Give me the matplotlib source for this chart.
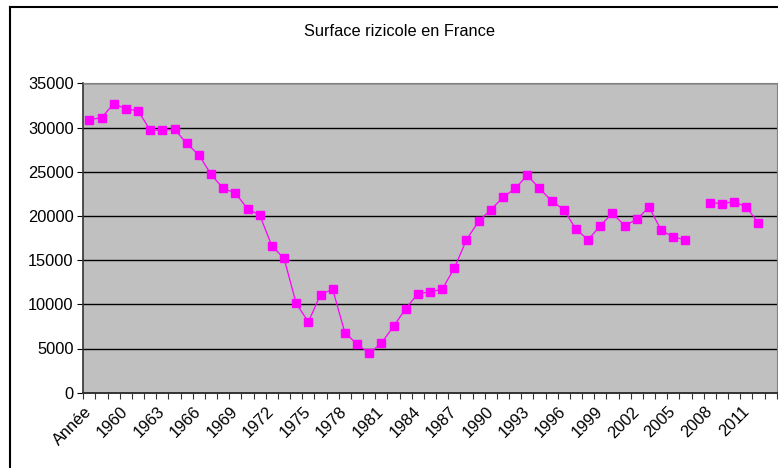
import matplotlib
matplotlib.use("Agg")
import matplotlib.pyplot as plt
import matplotlib.transforms as mtransforms
import numpy as np
from matplotlib.lines import Line2D

plt.rcParams['font.family'] = ['Liberation Sans', 'DejaVu Sans']

title = "Surface rizicole en France"
categories = ["Année"] + [str(y) for y in range(1958, 2014)]
values = [30900, 31100, 32700, 32100, 31900, 29700, 29700, 29800, 28200, 26900,
          24700, 23100, 22600, 20800, 20100, 16600, 15200, 10100, 8000, 11100,
          11700, 6800, 5500, 4450, 5600, 7500, 9500, 11200, 11400, 11700,
          14100, 17300, 19400, 20700, 22100, 23100, 24600, 23100, 21700, 20700,
          18500, 17300, 18900, 20300, 18900, 19600, 21000, 18400, 17600, 17300,
          None, 21500, 21400, 21600, 21000, 19200, None]
y_ticks = [0, 5000, 10000, 15000, 20000, 25000, 30000, 35000]

W, H = 778, 468
fig = plt.figure(figsize=(W / 100, H / 100), dpi=100)
fig.patch.set_facecolor("white")

left, right, top, bottom = 83.3, 776.7, 83.3, 392.7
ax = fig.add_axes([left / W, 1 - bottom / H, (right - left) / W, (bottom - top) / H])
ax.set_facecolor("#C0C0C0")

x = np.arange(len(categories))
y = np.array([np.nan if v is None else v for v in values], dtype=float)
ax.plot(x, y, color="#FF00FF", lw=0.9, marker="s", markersize=5.6,
        markerfacecolor="#FF00FF", markeredgecolor="#FF00FF", zorder=3)

fs = 11.8
ax.set_xlim(-0.5, len(categories) - 0.5)
ax.set_ylim(0, 35000)
ax.set_yticks(y_ticks)
ax.set_yticklabels([str(t) for t in y_ticks], fontsize=fs)
ax.yaxis.grid(True, color="black", lw=1.0)
ax.set_axisbelow(True)

ax.set_xticks(x[::3])
ax.set_xticklabels(categories[::3], rotation=45, ha="right", va="center",
                   rotation_mode="anchor", fontsize=fs)
offset = mtransforms.ScaledTranslation(-7 / 100, 1 / 100, fig.dpi_scale_trans)
for lab in ax.get_xticklabels():
    lab.set_transform(lab.get_transform() + offset)
ax.set_xticks(np.arange(-0.5, len(categories), 1), minor=True)
ax.tick_params(axis="x", which="major", length=0, pad=12)
ax.tick_params(axis="x", which="minor", length=4, width=0.8, color="#333333", direction="out")
ax.tick_params(axis="y", length=4, width=0.8, direction="out", pad=3)

for s in ["top", "right"]:
    ax.spines[s].set_color("#808080")
    ax.spines[s].set_linewidth(0.8)
ax.spines["left"].set_color("#333333")
ax.spines["bottom"].set_color("#333333")
ax.spines["left"].set_linewidth(1.2)
ax.spines["bottom"].set_linewidth(1.4)

fig.text(400 / W, 1 - 31 / H, title, ha="center", va="center", fontsize=fs)

# chart area border (left and top visible)
fig.add_artist(Line2D([10 / W, 10 / W], [0, 1 - 7 / H], transform=fig.transFigure, color="black", lw=1.5))
fig.add_artist(Line2D([10 / W, 1], [1 - 7 / H, 1 - 7 / H], transform=fig.transFigure, color="black", lw=1.5))

fig.savefig("out.png", dpi=100)
